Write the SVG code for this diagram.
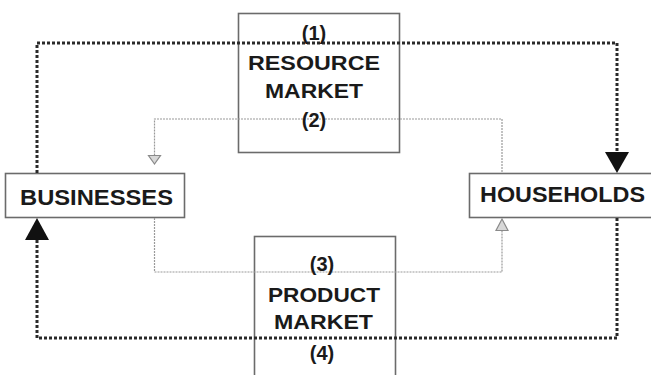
<svg xmlns="http://www.w3.org/2000/svg" width="651" height="375" viewBox="0 0 651 375">
<style>
.box{fill:#fff;stroke:#6b6b6b;stroke-width:1.6}
.t{font-family:"Liberation Sans",Arial,sans-serif;font-weight:bold;fill:#1a1a1a;text-anchor:middle}
.thick{fill:none;stroke:#2a2a2a;stroke-width:3;stroke-dasharray:3 2}
.thin{fill:none;stroke:#9a9a9a;stroke-width:1.2;stroke-dasharray:2 1}
.ah{fill:#111}
.ho{fill:#d8d8d8;stroke:#8a8a8a;stroke-width:1.2}
</style>
<rect width="651" height="375" fill="#fff"/>
<g id="resource-market">
<rect class="box" x="238.5" y="13.5" width="161" height="139"/>
</g>
<g id="product-market">
<rect class="box" x="254.5" y="236.5" width="141" height="145"/>
</g>
<g id="businesses">
<rect class="box" x="5.5" y="173.5" width="179" height="44"/>
<text class="t" x="96.5" y="205" font-size="22" textLength="153" lengthAdjust="spacingAndGlyphs">BUSINESSES</text>
</g>
<g id="households">
<rect class="box" x="469.5" y="173.5" width="190" height="44"/>
<text class="t" x="562.5" y="202" font-size="22" textLength="165" lengthAdjust="spacingAndGlyphs">HOUSEHOLDS</text>
</g>
<g id="connectors">
<path class="thick" d="M37,173 V43 H617 V152"/>
<polygon class="ah" points="605,152 629,152 617,173"/>
<path class="thick" d="M617,218 V338 H37 V240"/>
<polygon class="ah" points="25,240 49,240 37,218"/>
<path class="thin" d="M502,172 V119 H154.5 V155"/>
<polygon class="ho" points="148.5,155.5 160.5,155.5 154.5,164"/>
<path class="thin" d="M154.5,218 V272 H502 V231"/>
<polygon class="ho" points="496,230.5 508,230.5 502,219"/>
</g>
<g id="labels">
<text class="t" x="314" y="40" font-size="20">(1)</text>
<text class="t" x="314" y="70" font-size="21" textLength="132" lengthAdjust="spacingAndGlyphs">RESOURCE</text>
<text class="t" x="314" y="98" font-size="21" textLength="98" lengthAdjust="spacingAndGlyphs">MARKET</text>
<text class="t" x="314" y="127" font-size="20">(2)</text>
<text class="t" x="322" y="271" font-size="20">(3)</text>
<text class="t" x="324" y="302" font-size="21" textLength="112" lengthAdjust="spacingAndGlyphs">PRODUCT</text>
<text class="t" x="323.5" y="329" font-size="21" textLength="99" lengthAdjust="spacingAndGlyphs">MARKET</text>
<text class="t" x="322" y="360" font-size="20">(4)</text>
</g>
</svg>
